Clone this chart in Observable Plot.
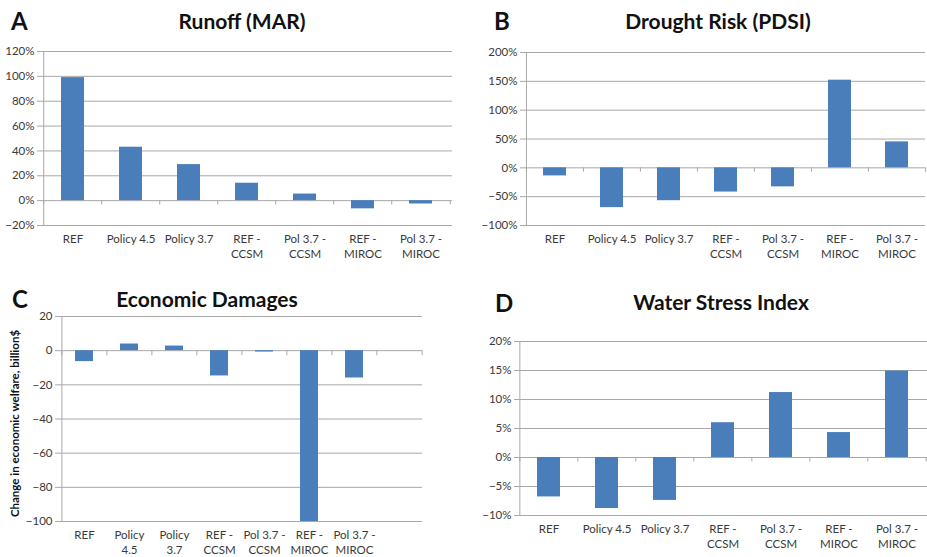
<!DOCTYPE html>
<html>
<head>
<meta charset="utf-8">
<script src="https://cdn.jsdelivr.net/npm/d3@7"></script>
<script src="https://cdn.jsdelivr.net/npm/@observablehq/plot@0.6"></script>
<style>
  html, body { margin: 0; padding: 0; background: #fff; }
  #page { position: relative; width: 927px; height: 557px; overflow: hidden; background: #fff; font-family: Lato, "Open Sans", sans-serif; }
  .panel { position: absolute; }
  .letter { position: absolute; font: bold 24px Lato, sans-serif; color: #111; }
  .title { position: absolute; font: bold 21px Lato, sans-serif; color: #111; text-align: center; white-space: nowrap; }
  .ylab { position: absolute; font: bold 11.5px Lato, sans-serif; color: #111; white-space: nowrap; transform: rotate(-90deg); transform-origin: center center; }
</style>
</head>
<body>
<div id="page"></div>
<script>
// Categories
const scenarios = ["REF", "Policy 4.5", "Policy 3.7", "REF - CCSM", "Pol 3.7 - CCSM", "REF - MIROC", "Pol 3.7 - MIROC"];
const labelsAB = ["REF", "Policy 4.5", "Policy 3.7", "REF -\nCCSM", "Pol 3.7 -\nCCSM", "REF -\nMIROC", "Pol 3.7 -\nMIROC"];
const labelsC = ["REF", "Policy\n4.5", "Policy\n3.7", "REF -\nCCSM", "Pol 3.7 -\nCCSM", "REF -\nMIROC", "Pol 3.7 -\nMIROC"];

// Series values (fractions for percent panels)
const runoff = [0.99, 0.43, 0.29, 0.14, 0.053, -0.066, -0.027];
const drought = [-0.14, -0.69, -0.57, -0.42, -0.33, 1.52, 0.45];
const damages = [-6.4, 3.9, 2.7, -14.8, -0.8, -100, -16];
const waterStress = [-0.068, -0.088, -0.074, 0.060, 0.112, 0.043, 0.149];

// Tick values
const ticksA = [-0.2, 0, 0.2, 0.4, 0.6, 0.8, 1.0, 1.2];
const ticksB = [-1, -0.5, 0, 0.5, 1, 1.5, 2];
const ticksC = [-100, -80, -60, -40, -20, 0, 20];
const ticksD = [-0.10, -0.05, 0, 0.05, 0.10, 0.15, 0.20];

const titles = ["Runoff (MAR)", "Drought Risk (PDSI)", "Economic Damages", "Water Stress Index"];
const letters = ["A", "B", "C", "D"];
const yLabelC = "Change in economic welfare, billion$";

const barColor = "#4a7ebb";
const gridColor = "#a8a8a8";
const textColor = "#3a3a3a";
const pct = d3.format(".0%");

const page = document.getElementById("page");

function panel({left, top, width, height, mL, mR, mT, mB, values, yTicks, fmt, labels, extra = 0}) {
  const domain = scenarios.concat(d3.range(extra).map(i => " ".repeat(i + 1)));
  const labelMap = new Map(scenarios.map((s, i) => [s, labels[i]]));
  const step = (width - mL - mR) / domain.length;
  const data = scenarios.map((s, i) => ({s, v: values[i]}));
  const y0 = yTicks[0], y1 = yTicks[yTicks.length - 1];
  const tickLen = (y1 - y0) * 0.025;
  const chart = Plot.plot({
    width, height,
    marginLeft: mL, marginRight: mR, marginTop: mT, marginBottom: mB,
    style: {fontFamily: "Lato, sans-serif", fontSize: "11.5px", color: textColor, background: "transparent", overflow: "visible"},
    x: {domain, paddingInner: 0.6, paddingOuter: 0.3},
    y: {domain: [y0, y1]},
    marks: [
      Plot.ruleY(yTicks, {stroke: gridColor, strokeWidth: 1}),
      Plot.barY(data, {x: "s", y: "v", fill: barColor}),
      Plot.ruleX(domain, {x: d => d, y1: 0, y2: -tickLen, dx: -step / 2, stroke: gridColor}),
      Plot.ruleX([domain[domain.length - 1]], {x: d => d, y1: 0, y2: -tickLen, dx: step / 2, stroke: gridColor}),
      Plot.ruleX([domain[0]], {x: d => d, dx: -step / 2, stroke: gridColor}),
      Plot.axisY({ticks: yTicks, tickFormat: fmt, tickSize: 5, tickPadding: 3, stroke: gridColor, label: null, fill: textColor, fontSize: 11.5}),
      Plot.axisX({tickFormat: d => labelMap.get(d) ?? "", tickSize: 0, tickPadding: 6, label: null, lineHeight: 1.35, fill: textColor, fontSize: 11.5})
    ]
  });
  const div = document.createElement("div");
  div.className = "panel";
  div.style.left = left + "px";
  div.style.top = top + "px";
  div.appendChild(chart);
  page.appendChild(div);
}

function addText(cls, text, left, top, width) {
  const el = document.createElement("div");
  el.className = cls;
  el.textContent = text;
  el.style.left = left + "px";
  el.style.top = top + "px";
  if (width) el.style.width = width + "px";
  page.appendChild(el);
  return el;
}

panel({left: 0, top: 40, width: 460, height: 230, mL: 42, mR: 8, mT: 11, mB: 45, values: runoff, yTicks: ticksA, fmt: pct, labels: labelsAB});
panel({left: 460, top: 40, width: 467, height: 230, mL: 65, mR: 2, mT: 12, mB: 45, values: drought, yTicks: ticksB, fmt: pct, labels: labelsAB});
panel({left: 0, top: 300, width: 460, height: 257, mL: 60, mR: 38, mT: 16, mB: 36, values: damages, yTicks: ticksC, fmt: d3.format("d"), labels: labelsC, extra: 1});
panel({left: 460, top: 300, width: 467, height: 257, mL: 59, mR: 0, mT: 41, mB: 42, values: waterStress, yTicks: ticksD, fmt: pct, labels: labelsAB});

addText("letter", letters[0], 11, 6);
addText("title", titles[0], 142, 8, 200);
addText("letter", letters[1], 494, 6);
addText("title", titles[1], 618, 8, 200);
addText("letter", letters[2], 12, 284);
addText("title", titles[2], 107, 286, 200);
addText("letter", letters[3], 495, 288);
addText("title", titles[3], 621, 289, 200);
const yl = addText("ylab", yLabelC, 0, 0);
const w = yl.offsetWidth, h = yl.offsetHeight;
yl.style.left = (14 - w / 2) + "px";
yl.style.top = (423 - h / 2) + "px";
</script>
</body>
</html>
